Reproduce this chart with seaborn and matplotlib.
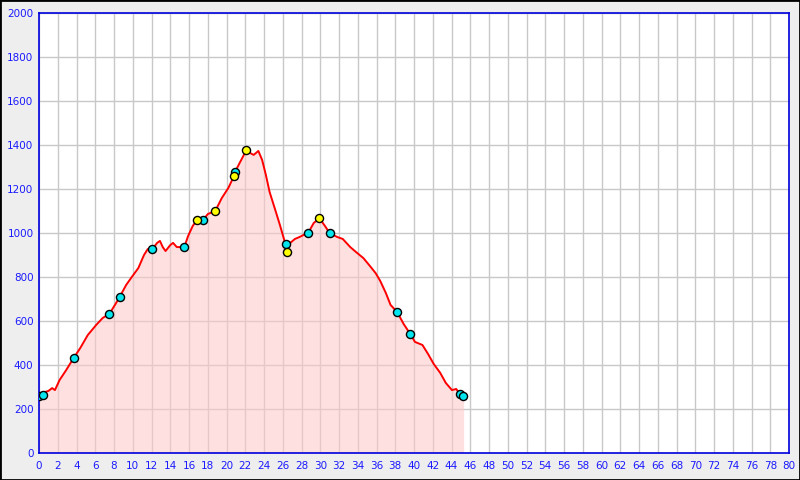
import numpy as np
import pandas as pd
import matplotlib
matplotlib.use('Agg')
import matplotlib.pyplot as plt
import seaborn as sns
from matplotlib.patches import Rectangle

# Perfil de elevación (km, m)
dist_km = [0.0, 0.4, 0.6, 1.0, 1.4, 1.7, 2.2, 2.9, 3.7, 4.4, 5.2, 6.1, 6.8, 7.5,
           8.1, 8.6, 9.3, 9.9, 10.6, 11.2, 11.6, 12.1, 12.6, 12.9, 13.2, 13.5,
           14.0, 14.3, 14.7, 15.5, 15.9, 16.4, 16.85, 17.5, 18.0, 18.5, 18.8,
           19.5, 20.2, 20.8, 20.9, 21.4, 21.9, 22.1, 22.5, 22.9, 23.4, 23.8,
           24.2, 24.6, 25.2, 25.7, 26.1, 26.3, 26.45, 26.8, 27.3, 27.8, 28.4,
           28.7, 29.3, 29.9, 30.5, 31.0, 31.8, 32.4, 33.2, 33.8, 34.6, 35.3,
           35.9, 36.4, 37.0, 37.5, 38.2, 38.9, 39.6, 40.1, 40.9, 41.5, 42.1,
           42.8, 43.4, 44.05, 44.5, 44.9, 45.3]
elev_m = [259, 262, 277, 282, 295, 286, 332, 377, 432, 477, 536, 582, 614, 632,
          673, 709, 764, 800, 841, 900, 927, 927, 955, 964, 936, 918,
          945, 955, 936, 936, 986, 1032, 1059, 1059, 1086, 1095, 1100,
          1159, 1205, 1259, 1277, 1318, 1359, 1377, 1364, 1355, 1373, 1332,
          1264, 1186, 1105, 1036, 977, 950, 914, 955, 973, 982, 995,
          1000, 1045, 1068, 1032, 1000, 982, 973, 936, 914, 886, 850,
          818, 782, 727, 673, 641, 586, 541, 505, 491, 450, 405,
          364, 318, 286, 291, 268, 259]

# Puntos de paso
cyan_km = [0.05, 0.45, 3.75, 7.5, 8.65, 12.05, 15.45, 17.5, 20.9, 26.3, 28.7, 31.0, 38.2, 39.6, 44.9, 45.2]
cyan_m = [259, 264, 432, 632, 709, 927, 936, 1059, 1277, 950, 1000, 1000, 641, 541, 266, 259]
yellow_km = [16.85, 18.8, 20.8, 22.1, 26.45, 29.9]
yellow_m = [1059, 1100, 1259, 1377, 914, 1068]

x_ticks = list(range(0, 81, 2))
y_ticks = list(range(0, 2001, 200))

df = pd.DataFrame({'km': dist_km, 'm': elev_m})
df_c = pd.DataFrame({'km': cyan_km, 'm': cyan_m})
df_y = pd.DataFrame({'km': yellow_km, 'm': yellow_m})

sns.set_style('white')
plt.rcParams['font.family'] = ['DejaVu Sans']

fig = plt.figure(figsize=(8, 4.8), dpi=100, facecolor='#eeeeee')
ax = fig.add_axes([39 / 800, 27 / 480, 750 / 800, 440 / 480])
ax.set_facecolor('white')

blue = '#1a1aff'
ax.set_xlim(0, 80)
ax.set_ylim(0, 2000)
ax.set_xticks(x_ticks)
ax.set_yticks(y_ticks)
ax.grid(True, color='#c8c8c8', linewidth=1)
ax.set_axisbelow(True)

ax.fill_between(df['km'], df['m'], 0, color='#ffc8c8', alpha=0.55, linewidth=0, zorder=2)
sns.lineplot(data=df, x='km', y='m', ax=ax, color='red', linewidth=1.4, zorder=3)
sns.scatterplot(data=df_c, x='km', y='m', ax=ax, color='#00e5ee', edgecolor='black',
                linewidth=1, s=34, zorder=4)
sns.scatterplot(data=df_y, x='km', y='m', ax=ax, color='#ffff00', edgecolor='black',
                linewidth=1, s=34, zorder=4)

ax.set_xlabel('')
ax.set_ylabel('')
for sp in ax.spines.values():
    sp.set_color('#0000dd')
    sp.set_linewidth(1.2)
ax.tick_params(direction='in', length=5, color='#0000dd', labelcolor=blue,
               labelsize=7.5, pad=4)
ax.tick_params(axis='x', pad=6)

fig.patches.append(Rectangle((0, 0), 1, 1, transform=fig.transFigure, fill=False,
                             edgecolor='black', linewidth=2))

fig.savefig('out.png', dpi=100, facecolor=fig.get_facecolor())
